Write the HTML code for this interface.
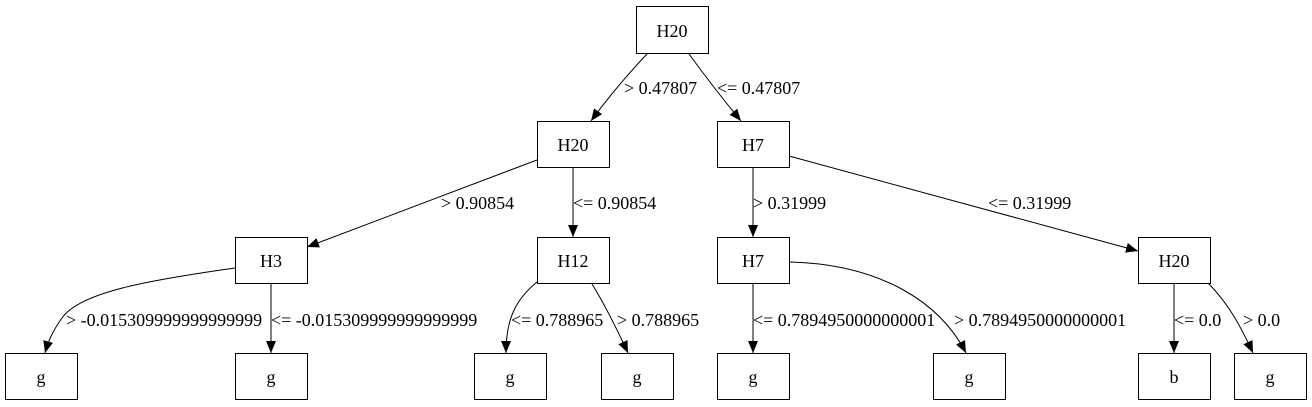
<!DOCTYPE html>
<html><head><meta charset="utf-8"><style>
html,body{margin:0;padding:0;background:#fff;}
svg{display:block;}
text{font-family:"Liberation Serif",serif;font-size:18px;fill:#000;}
</style></head><body>
<svg width="1312" height="407" viewBox="0 0 1312 407" xmlns="http://www.w3.org/2000/svg">
<defs>
<marker id="a" markerUnits="userSpaceOnUse" markerWidth="13" markerHeight="11" refX="12" refY="5" orient="auto">
<polygon points="0,0 12,5 0,10" fill="#000"/>
</marker>
</defs>
<g fill="none" stroke="#000" stroke-width="1">
<rect x="636.5" y="6.5" width="72" height="47"/>
<rect x="537.5" y="121.5" width="72" height="46"/>
<rect x="717.5" y="121.5" width="72" height="46"/>
<rect x="235.5" y="237.5" width="72" height="46"/>
<rect x="537.5" y="237.5" width="72" height="46"/>
<rect x="717.5" y="237.5" width="72" height="46"/>
<rect x="1138.5" y="237.5" width="72" height="46"/>
<rect x="5.5" y="353.5" width="72" height="46"/>
<rect x="235.5" y="353.5" width="72" height="46"/>
<rect x="474.5" y="353.5" width="72" height="46"/>
<rect x="601.5" y="353.5" width="72" height="46"/>
<rect x="717.5" y="353.5" width="72" height="46"/>
<rect x="933.5" y="353.5" width="72" height="46"/>
<rect x="1138.5" y="353.5" width="72" height="46"/>
<rect x="1234.5" y="353.5" width="72" height="46"/>
</g>
<g fill="none" stroke="#000" stroke-width="1" marker-end="url(#a)">
<path d="M647,54 C630,72 612,92 591,121"/>
<path d="M689,54 C705,76 722,98 741,121"/>
<path d="M537,160 L307,247"/>
<path d="M573,168 L573,237"/>
<path d="M753,168 L753,237"/>
<path d="M789,156 L1138,251"/>
<path d="M235,268 C150,280 80,292 62,318 C52,332 48,342 45,353"/>
<path d="M271,284 L271,353"/>
<path d="M537,282 C515,300 506,320 506,353"/>
<path d="M592,284 C605,305 615,325 628,353"/>
<path d="M753,284 L753,353"/>
<path d="M789,262 C880,264 940,302 966,353"/>
<path d="M1174,284 L1174,353"/>
<path d="M1208,283 C1228,303 1240,325 1253,353"/>
</g>
<g text-anchor="middle">
<text x="672" y="37">H20</text>
<text x="573" y="151">H20</text>
<text x="753" y="151">H7</text>
<text x="271" y="267">H3</text>
<text x="573" y="267">H12</text>
<text x="753" y="267">H7</text>
<text x="1174" y="267">H20</text>
<text x="41" y="383">g</text>
<text x="271" y="383">g</text>
<text x="510" y="383">g</text>
<text x="637" y="383">g</text>
<text x="753" y="383">g</text>
<text x="969" y="383">g</text>
<text x="1174" y="383">b</text>
<text x="1270" y="383">g</text>
</g>
<g>
<text x="624" y="94">&gt; 0.47807</text>
<text x="717" y="94">&lt;= 0.47807</text>
<text x="441" y="209">&gt; 0.90854</text>
<text x="573" y="209">&lt;= 0.90854</text>
<text x="753" y="209">&gt; 0.31999</text>
<text x="988" y="209">&lt;= 0.31999</text>
<text x="66" y="326">&gt; -0.015309999999999999</text>
<text x="271" y="326">&lt;= -0.015309999999999999</text>
<text x="511" y="326">&lt;= 0.788965</text>
<text x="617" y="326">&gt; 0.788965</text>
<text x="753" y="326">&lt;= 0.7894950000000001</text>
<text x="954" y="326">&gt; 0.7894950000000001</text>
<text x="1174" y="326">&lt;= 0.0</text>
<text x="1243" y="326">&gt; 0.0</text>
</g>
</svg>
</body></html>
